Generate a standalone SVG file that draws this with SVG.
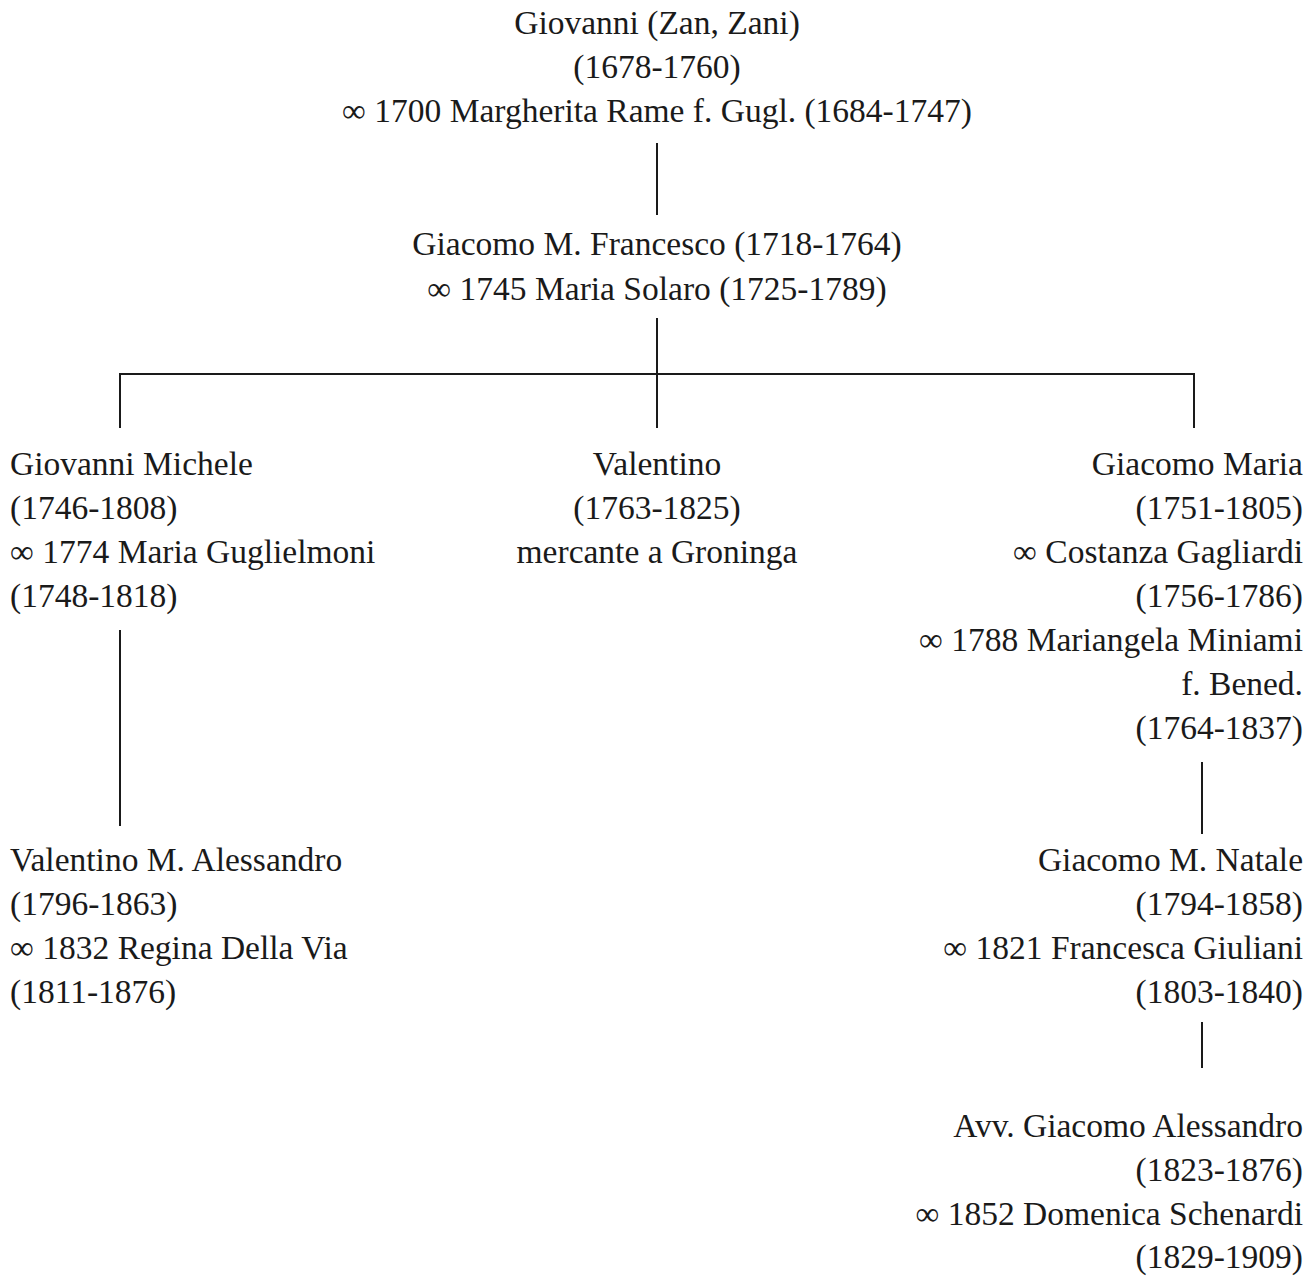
<svg xmlns="http://www.w3.org/2000/svg" width="1315" height="1276" viewBox="0 0 1315 1276">
<style>
text{font-family:"Liberation Serif","DejaVu Serif",serif;font-size:33.5px;fill:#1a1a1a}
.c{text-anchor:middle}.r{text-anchor:end}.l{text-anchor:start}
.ln{stroke:#1a1a1a;stroke-width:2;fill:none}
</style>
<rect width="1315" height="1276" fill="#ffffff"/>
<g id="connectors">
<line class="ln" x1="657" y1="143" x2="657" y2="215"/>
<line class="ln" x1="657" y1="318" x2="657" y2="428"/>
<line class="ln" x1="119" y1="374" x2="1195" y2="374"/>
<line class="ln" x1="120" y1="373" x2="120" y2="428"/>
<line class="ln" x1="1194" y1="373" x2="1194" y2="428"/>
<line class="ln" x1="120" y1="630" x2="120" y2="826"/>
<line class="ln" x1="1202" y1="762" x2="1202" y2="834"/>
<line class="ln" x1="1202" y1="1022" x2="1202" y2="1068"/>
</g>
<g id="n_giovanni">
<text class="c" x="657" y="34">Giovanni (Zan, Zani)</text>
<text class="c" x="657" y="78">(1678-1760)</text>
<text class="c" x="657" y="122">∞ 1700 Margherita Rame f. Gugl. (1684-1747)</text>
</g>
<g id="n_giacomo_francesco">
<text class="c" x="657" y="255">Giacomo M. Francesco (1718-1764)</text>
<text class="c" x="657" y="300">∞ 1745 Maria Solaro (1725-1789)</text>
</g>
<g id="n_giovanni_michele">
<text class="l" x="10" y="475">Giovanni Michele</text>
<text class="l" x="10" y="519">(1746-1808)</text>
<text class="l" x="10" y="563">∞ 1774 Maria Guglielmoni</text>
<text class="l" x="10" y="607">(1748-1818)</text>
</g>
<g id="n_valentino">
<text class="c" x="657" y="475">Valentino</text>
<text class="c" x="657" y="519">(1763-1825)</text>
<text class="c" x="657" y="563">mercante a Groninga</text>
</g>
<g id="n_giacomo_maria">
<text class="r" x="1303" y="475">Giacomo Maria</text>
<text class="r" x="1303" y="519">(1751-1805)</text>
<text class="r" x="1303" y="563">∞ Costanza Gagliardi</text>
<text class="r" x="1303" y="607">(1756-1786)</text>
<text class="r" x="1303" y="651">∞ 1788 Mariangela Miniami</text>
<text class="r" x="1303" y="695">f. Bened.</text>
<text class="r" x="1303" y="739">(1764-1837)</text>
</g>
<g id="n_valentino_alessandro">
<text class="l" x="10" y="871">Valentino M. Alessandro</text>
<text class="l" x="10" y="915">(1796-1863)</text>
<text class="l" x="10" y="959">∞ 1832 Regina Della Via</text>
<text class="l" x="10" y="1003">(1811-1876)</text>
</g>
<g id="n_giacomo_natale">
<text class="r" x="1303" y="871">Giacomo M. Natale</text>
<text class="r" x="1303" y="915">(1794-1858)</text>
<text class="r" x="1303" y="959">∞ 1821 Francesca Giuliani</text>
<text class="r" x="1303" y="1003">(1803-1840)</text>
</g>
<g id="n_giacomo_alessandro">
<text class="r" x="1303" y="1137">Avv. Giacomo Alessandro</text>
<text class="r" x="1303" y="1181">(1823-1876)</text>
<text class="r" x="1303" y="1225">∞ 1852 Domenica Schenardi</text>
<text class="r" x="1303" y="1268">(1829-1909)</text>
</g>
</svg>
